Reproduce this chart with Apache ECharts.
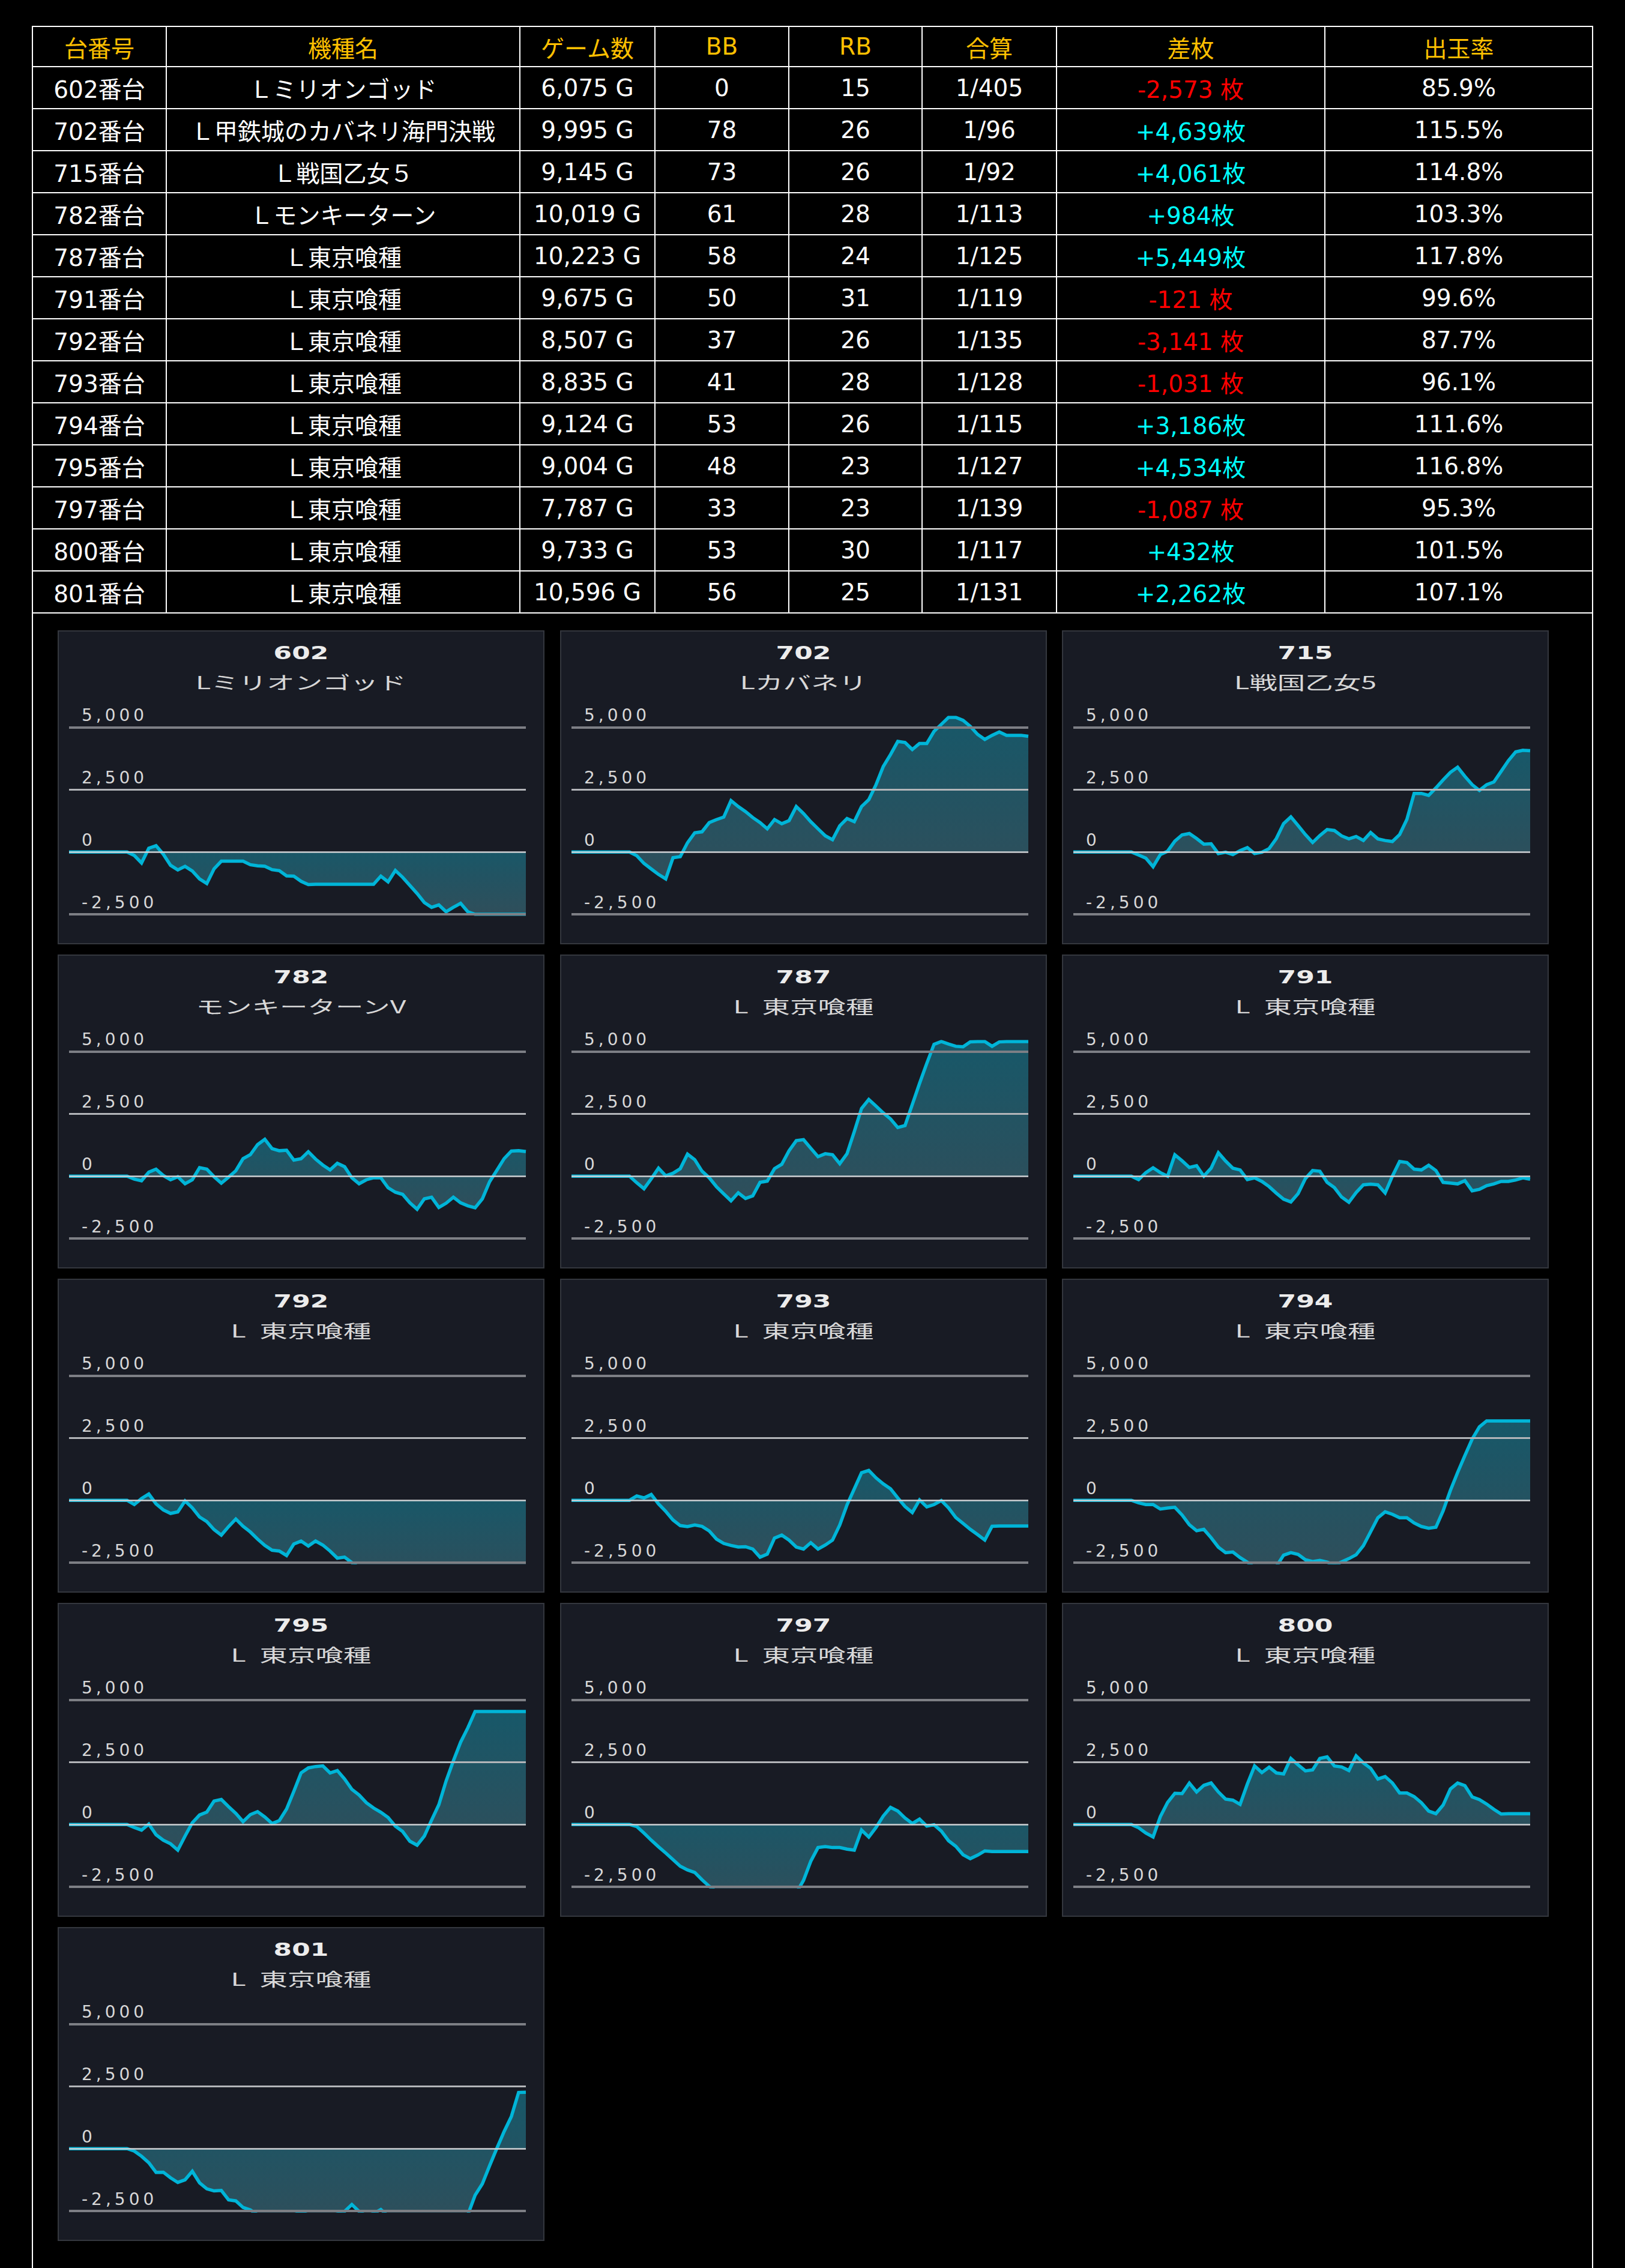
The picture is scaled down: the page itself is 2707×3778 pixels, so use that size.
<!DOCTYPE html>
<html><head><meta charset="utf-8">
<script src="https://cdn.jsdelivr.net/npm/echarts@6/dist/echarts.min.js"></script>
<style>
html,body{margin:0;padding:0;background:#000;width:2707px;height:3778px;overflow:hidden;}
#frame{position:absolute;left:53px;top:43px;width:2597px;height:3800px;border-left:2px solid #fff;border-right:2px solid #fff;}
#tbl{position:absolute;left:53px;top:43px;width:2601px;border-collapse:collapse;table-layout:fixed;font-family:"DejaVu Sans","Noto Sans CJK JP",sans-serif;font-size:39px;color:#fff;background:#000;}
#tbl td,#tbl th{border:2px solid #fff;text-align:center;padding:0;white-space:nowrap;overflow:hidden;}
#tbl th{color:#ffc000;font-weight:normal;height:65px;}
#tbl td{height:68px;}
.neg{color:#ff0000;}
.pos{color:#00ffff;}
.panel{position:absolute;width:807px;height:519px;background:#181b24;border:2px solid #34373e;}
.chart{position:absolute;left:0;top:0;width:807px;height:519px;}
.chart svg text{letter-spacing:6px;}
.pno{position:absolute;left:0;top:20px;width:807px;text-align:center;font:bold 31px "DejaVu Sans",sans-serif;line-height:31px;color:#ececec;transform:scaleX(1.42);transform-origin:50% 50%;}
.pname{position:absolute;left:0;top:68px;width:807px;text-align:center;font:30px "Noto Sans CJK JP",sans-serif;line-height:30px;color:#d8d8d8;word-spacing:8px;white-space:pre;transform:scaleX(1.55);transform-origin:50% 50%;}
</style></head>
<body>
<div id="frame"></div>
<table id="tbl">
<colgroup><col style="width:223px"><col style="width:589px"><col style="width:225px"><col style="width:223px"><col style="width:222px"><col style="width:224px"><col style="width:447px"><col style="width:446px"></colgroup>
<thead id="thead"></thead><tbody id="tbody"></tbody>
</table>
<div id="panels"></div>
<script>
// ---- table data ----
const tableHeaders = ['台番号','機種名','ゲーム数','BB','RB','合算','差枚','出玉率'];
const tableNos = ['602','702','715','782','787','791','792','793','794','795','797','800','801'];
const tableNames = ['Ｌミリオンゴッド','Ｌ甲鉄城のカバネリ海門決戦','Ｌ戦国乙女５','Ｌモンキーターン','Ｌ東京喰種','Ｌ東京喰種','Ｌ東京喰種','Ｌ東京喰種','Ｌ東京喰種','Ｌ東京喰種','Ｌ東京喰種','Ｌ東京喰種','Ｌ東京喰種'];
const tableGames = [6075,9995,9145,10019,10223,9675,8507,8835,9124,9004,7787,9733,10596];
const tableBB = [0,78,73,61,58,50,37,41,53,48,33,53,56];
const tableRB = [15,26,26,28,24,31,26,28,26,23,23,30,25];
const tableRatio = [405,96,92,113,125,119,135,128,115,127,139,117,131];
const tableDiff = [-2573,4639,4061,984,5449,-121,-3141,-1031,3186,4534,-1087,432,2262];
const tableRate = [85.9,115.5,114.8,103.3,117.8,99.6,87.7,96.1,111.6,116.8,95.3,101.5,107.1];

// ---- panel data ----
const panelNos = ['602','702','715','782','787','791','792','793','794','795','797','800','801'];
const panelNames = ['Lミリオンゴッド','Lカバネリ','L戦国乙女5','モンキーターンV','L 東京喰種','L 東京喰種','L 東京喰種','L 東京喰種','L 東京喰種','L 東京喰種','L 東京喰種','L 東京喰種','L 東京喰種'];
const yTicks = [-2500,0,2500,5000];

const d602 = [0,0,0,0,0,0,0,0,0,-140,-440,150,250,-90,-535,-720,-575,-765,-1080,-1265,-675,-370,-370,-370,-370,-510,-555,-575,-710,-750,-960,-970,-1175,-1310,-1295,-1295,-1295,-1295,-1295,-1295,-1295,-1295,-1295,-970,-1200,-740,-1015,-1340,-1665,-2030,-2220,-2125,-2400,-2220,-2060,-2400,-2500,-2500,-2500,-2500,-2500,-2500,-2500,-2500];
const d702 = [0,0,0,0,0,0,0,0,0,-150,-460,-680,-900,-1080,-230,-190,370,770,810,1180,1300,1400,2060,1820,1620,1380,1180,930,1300,1135,1255,1820,1540,1215,930,650,490,1050,1340,1215,1820,2100,2700,3430,3910,4435,4395,4110,4355,4355,4840,5120,5400,5400,5280,5040,4720,4515,4680,4815,4680,4680,4680,4639];
const d715 = [0,0,0,0,0,0,0,0,0,-120,-250,-590,-105,30,435,685,740,540,315,330,-65,-10,-105,55,175,-65,-10,135,540,1140,1410,1060,700,380,660,900,860,645,525,620,460,780,525,460,420,700,1305,2350,2350,2270,2570,2890,3195,3400,3035,2700,2470,2700,2810,3235,3665,4015,4080,4061];
const d782 = [0,0,0,0,0,0,0,0,0,-120,-185,160,280,25,-145,-25,-305,-145,340,280,-25,-280,-40,215,700,860,1265,1480,1105,1020,1040,645,700,980,685,445,250,515,380,-65,-305,-145,-65,-65,-465,-645,-730,-1070,-1330,-910,-845,-1255,-1085,-845,-1070,-1190,-1270,-910,-225,235,700,1005,1020,984];
const d787 = [0,0,0,0,0,0,0,0,0,-265,-505,-105,320,15,115,300,885,660,200,-65,-425,-710,-990,-670,-895,-790,-250,-200,300,475,1020,1425,1465,1120,780,900,860,500,900,1785,2715,3075,2810,2535,2295,1950,2030,2875,3720,4525,5290,5400,5300,5210,5190,5390,5400,5400,5210,5385,5400,5400,5400,5400];
const d791 = [0,0,0,0,0,0,0,0,0,-140,140,335,140,0,855,615,350,420,0,320,940,605,320,250,-140,-70,-210,-420,-685,-925,-1035,-700,-100,225,195,-250,-460,-840,-1050,-660,-350,-320,-350,-675,0,590,545,280,250,435,225,-250,-280,-310,-180,-590,-530,-380,-310,-210,-210,-155,-70,-121];
const d792 = [0,0,0,0,0,0,0,0,0,-170,70,255,-145,-385,-525,-465,-25,-305,-670,-855,-1175,-1395,-1055,-750,-1040,-1270,-1555,-1810,-2000,-2035,-2215,-1755,-1635,-1835,-1635,-1795,-2035,-2320,-2280,-2500,-2700,-2850,-2900,-2950,-3000,-3050,-3100,-2950,-2900,-3000,-3100,-3200,-3150,-3050,-3100,-3200,-3250,-3150,-3100,-3050,-3100,-3150,-3141,-3141];
const d793 = [0,0,0,0,0,0,0,0,0,175,95,235,-145,-445,-790,-1015,-1055,-990,-1045,-1230,-1555,-1730,-1810,-1875,-1860,-1955,-2280,-2160,-1515,-1395,-1595,-1875,-1955,-1700,-1955,-1795,-1595,-990,-185,460,1105,1200,900,660,460,95,-250,-490,15,-265,-170,-10,-305,-690,-925,-1165,-1375,-1595,-1040,-1031,-1031,-1031,-1031,-1031];
const d794 = [0,0,0,0,0,0,0,0,0,-100,-170,-170,-350,-310,-280,-590,-980,-1220,-1165,-1500,-1880,-2100,-2075,-2300,-2480,-2700,-2800,-2750,-2650,-2200,-2100,-2170,-2385,-2455,-2410,-2480,-2600,-2470,-2340,-2185,-1820,-1260,-700,-460,-560,-700,-700,-910,-1050,-1120,-1080,-420,395,1120,1795,2455,2945,3186,3186,3186,3186,3186,3186,3186];
const d795 = [0,0,0,0,0,0,0,0,0,-120,-225,15,-410,-630,-775,-1030,-465,70,380,500,940,1005,715,445,115,395,515,300,40,155,620,1330,2070,2270,2325,2350,2070,2165,1825,1410,1185,875,660,490,280,-65,-280,-670,-830,-465,175,795,1745,2550,3300,3880,4534,4534,4534,4534,4534,4534,4534,4534];
const d797 = [0,0,0,0,0,0,0,0,0,-80,-345,-630,-895,-1145,-1410,-1675,-1825,-1925,-2215,-2480,-2700,-2850,-2950,-3050,-3100,-3000,-2950,-3050,-3150,-3100,-2950,-2750,-2240,-1475,-925,-885,-925,-925,-990,-1030,-225,-505,-120,340,685,540,260,40,215,-65,-10,-265,-650,-875,-1215,-1370,-1230,-1060,-1087,-1087,-1087,-1087,-1087,-1087];
const d800 = [0,0,0,0,0,0,0,0,0,-130,-345,-500,315,885,1250,1240,1660,1305,1570,1665,1305,1020,975,805,1625,2350,2085,2300,2070,2030,2650,2390,2150,2190,2650,2715,2350,2310,2165,2755,2470,2255,1825,1925,1665,1265,1265,1120,875,540,435,780,1425,1665,1560,1105,1000,820,605,420,432,432,432,432];
const d801 = [0,0,0,0,0,0,0,0,0,-95,-305,-565,-950,-945,-1170,-1355,-1250,-910,-1370,-1610,-1695,-1675,-2055,-2095,-2360,-2460,-2650,-2750,-2800,-2800,-2750,-2650,-2560,-2650,-2750,-2800,-2700,-2620,-2520,-2240,-2520,-2700,-2600,-2440,-2700,-2800,-2900,-3000,-3050,-3100,-3050,-3000,-2950,-2900,-2800,-2650,-1870,-1410,-685,15,685,1290,2255,2262];
const panelSeries = [d602,d702,d715,d782,d787,d791,d792,d793,d794,d795,d797,d800,d801];

// ---- layout (not data) ----
const colX = [96, 933, 1769];
const rowY = [1050, 1590, 2130, 2670, 3210];

// ---- build table ----
const fmt = v => v.toLocaleString('en-US');
document.getElementById('thead').innerHTML = '<tr>' + tableHeaders.map(h => '<th>' + h + '</th>').join('') + '</tr>';
let rows = '';
tableNos.forEach((no, i) => {
  const d = tableDiff[i];
  const diffTxt = d < 0 ? fmt(d) + ' 枚' : '+' + fmt(d) + '枚';
  rows += '<tr><td>' + no + '番台</td><td>' + tableNames[i] + '</td><td>' + fmt(tableGames[i]) + ' G</td><td>' + tableBB[i] +
    '</td><td>' + tableRB[i] + '</td><td>1/' + tableRatio[i] + '</td><td class="' + (d < 0 ? 'neg' : 'pos') + '">' + diffTxt +
    '</td><td>' + tableRate[i].toFixed(1) + '%</td></tr>';
});
document.getElementById('tbody').innerHTML = rows;

// ---- build panels ----
const gridStyle = v => (v === 5000 || v === -2500) ? {color:'#7d7f85', width:4, type:'solid'} :
  (v === 2500 ? {color:'#b3b5b9', width:3, type:'solid'} : {color:'#cfd2d5', width:2.5, type:'solid'});
const host = document.getElementById('panels');
panelNos.forEach((no, k) => {
  const panel = document.createElement('div');
  panel.className = 'panel';
  panel.style.left = colX[k % 3] + 'px';
  panel.style.top = rowY[Math.floor(k / 3)] + 'px';
  const cdiv = document.createElement('div');
  cdiv.className = 'chart';
  panel.appendChild(cdiv);
  const t1 = document.createElement('div'); t1.className = 'pno'; t1.textContent = no; panel.appendChild(t1);
  const t2 = document.createElement('div'); t2.className = 'pname'; t2.textContent = panelNames[k]; panel.appendChild(t2);
  host.appendChild(panel);
  const values = panelSeries[k];
  const chart = echarts.init(cdiv, null, {renderer:'svg', width:807, height:519});
  chart.setOption({
    animation:false,
    grid:{left:17, right:29, top:143, bottom:48},
    xAxis:{type:'category', show:false, boundaryGap:false, data: values.map((_, i) => i)},
    yAxis:{type:'value', show:false, min:-2500, max:5400, splitLine:{show:false}},
    series:[
      {type:'line', data:values, z:1, silent:true, showSymbol:false, symbol:'none', lineStyle:{opacity:0}, tooltip:{show:false},
       markLine:{symbol:'none', silent:true, animation:false,
         data: yTicks.map(v => ({yAxis:v, lineStyle:gridStyle(v),
           label:{show:true, position:'insideStartTop', formatter: fmt(v), color:'#d8d8d8', fontSize:28, fontFamily:'DejaVu Sans', distance:[21,6]}}))}},
      {type:'line', data:values, z:3, showSymbol:false, symbol:'none',
       lineStyle:{color:'#00b5d8', width:5.5, join:'miter'},
       itemStyle:{color:'#00b5d8'},
       areaStyle:{opacity:1, color:{type:'linear', x:0, y:0, x2:0, y2:1,
         colorStops:[{offset:0, color:'rgba(23,103,122,0.8)'}, {offset:1, color:'rgba(53,91,104,0.8)'}]}}}
    ]
  });
});
</script>
</body></html>
